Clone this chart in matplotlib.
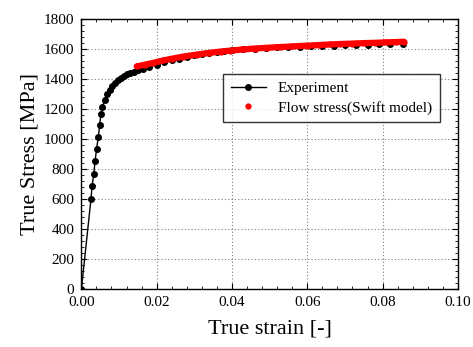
import matplotlib
matplotlib.use("Agg")
import matplotlib.pyplot as plt
from matplotlib.ticker import MultipleLocator

# ----------------------------
# data
# ----------------------------
exp_strain = [0.0, 0.00257, 0.00284, 0.0033, 0.00364, 0.00406, 0.00451, 0.00486,
              0.00522, 0.00557, 0.0062, 0.0068, 0.0075, 0.0082, 0.0090, 0.0098,
              0.0106, 0.0114, 0.0122, 0.0130, 0.0140, 0.0150, 0.0165, 0.018,
              0.020, 0.022, 0.024, 0.026, 0.028, 0.030, 0.032, 0.034, 0.036,
              0.038, 0.040, 0.043, 0.046, 0.049, 0.052, 0.055, 0.058, 0.061,
              0.064, 0.067, 0.070, 0.073, 0.076, 0.079, 0.082, 0.0855]
exp_stress = [0, 605, 687, 769, 855, 938, 1016, 1096,
              1170, 1216, 1262, 1300, 1330, 1355, 1376, 1395,
              1410, 1422, 1432, 1441, 1450, 1458, 1470, 1482,
              1497, 1511, 1525, 1537, 1549, 1559, 1568, 1575, 1581,
              1587, 1592, 1598, 1603, 1607, 1611, 1614, 1617, 1620,
              1622, 1624, 1626, 1628, 1630, 1631, 1633, 1634]

swift_strain = [0.0147, 0.017, 0.019, 0.0218, 0.024, 0.027, 0.0307, 0.034,
                0.037, 0.0395, 0.043, 0.046, 0.0493, 0.053, 0.056, 0.0599,
                0.063, 0.066, 0.0687, 0.072, 0.075, 0.078, 0.081, 0.0835, 0.0857]
swift_stress = [1485, 1497, 1508, 1525, 1536, 1550, 1564, 1575,
                1584, 1590, 1598, 1604, 1609, 1614, 1618, 1623,
                1627, 1631, 1634, 1637, 1640, 1642, 1645, 1647, 1649]

plt.rcParams["font.family"] = ["Liberation Serif", "DejaVu Serif"]

fig = plt.figure(figsize=(4.73, 3.47), dpi=100)
ax = fig.add_axes([0.172, 0.166, 0.796, 0.779])

ax.plot(exp_strain, exp_stress, color="black", lw=1.0, marker="o", ms=4,
        label="Experiment", zorder=3)
# thick band under the dense model points
ax.plot(swift_strain, swift_stress, color="red", lw=4.5, solid_capstyle="round",
        zorder=4, label="_nolegend_")
ax.plot(swift_strain, swift_stress, color="red", ls="none", marker="o", ms=3.5,
        label="Flow stress(Swift model)", zorder=4)

ax.set_xlim(0, 0.10)
ax.set_ylim(0, 1800)
ax.xaxis.set_major_locator(MultipleLocator(0.02))
ax.xaxis.set_minor_locator(MultipleLocator(0.004))
ax.yaxis.set_major_locator(MultipleLocator(200))
ax.yaxis.set_minor_locator(MultipleLocator(40))
ax.xaxis.set_major_formatter(plt.FuncFormatter(lambda v, p: f"{v:.2f}"))

ax.tick_params(which="both", direction="in", top=True, right=True, labelsize=11)
ax.tick_params(which="major", length=4, width=0.8, pad=5)
ax.tick_params(which="minor", length=2, width=0.6)
for s in ax.spines.values():
    s.set_linewidth(1.0)

ax.grid(True, which="major", color="gray", linestyle=(0, (1, 2)), linewidth=0.8)

ax.set_xlabel("True strain [-]", fontsize=16, labelpad=7)
ax.set_ylabel("True Stress [MPa]", fontsize=16, labelpad=3)

leg = ax.legend(loc="upper left", bbox_to_anchor=(0.376, 0.797), fontsize=11,
                frameon=True, fancybox=False, edgecolor="black",
                handlelength=2.3, borderpad=0.5, labelspacing=0.35,
                borderaxespad=0)
leg.get_frame().set_linewidth(1.0)

plt.savefig("out.png", dpi=100)
